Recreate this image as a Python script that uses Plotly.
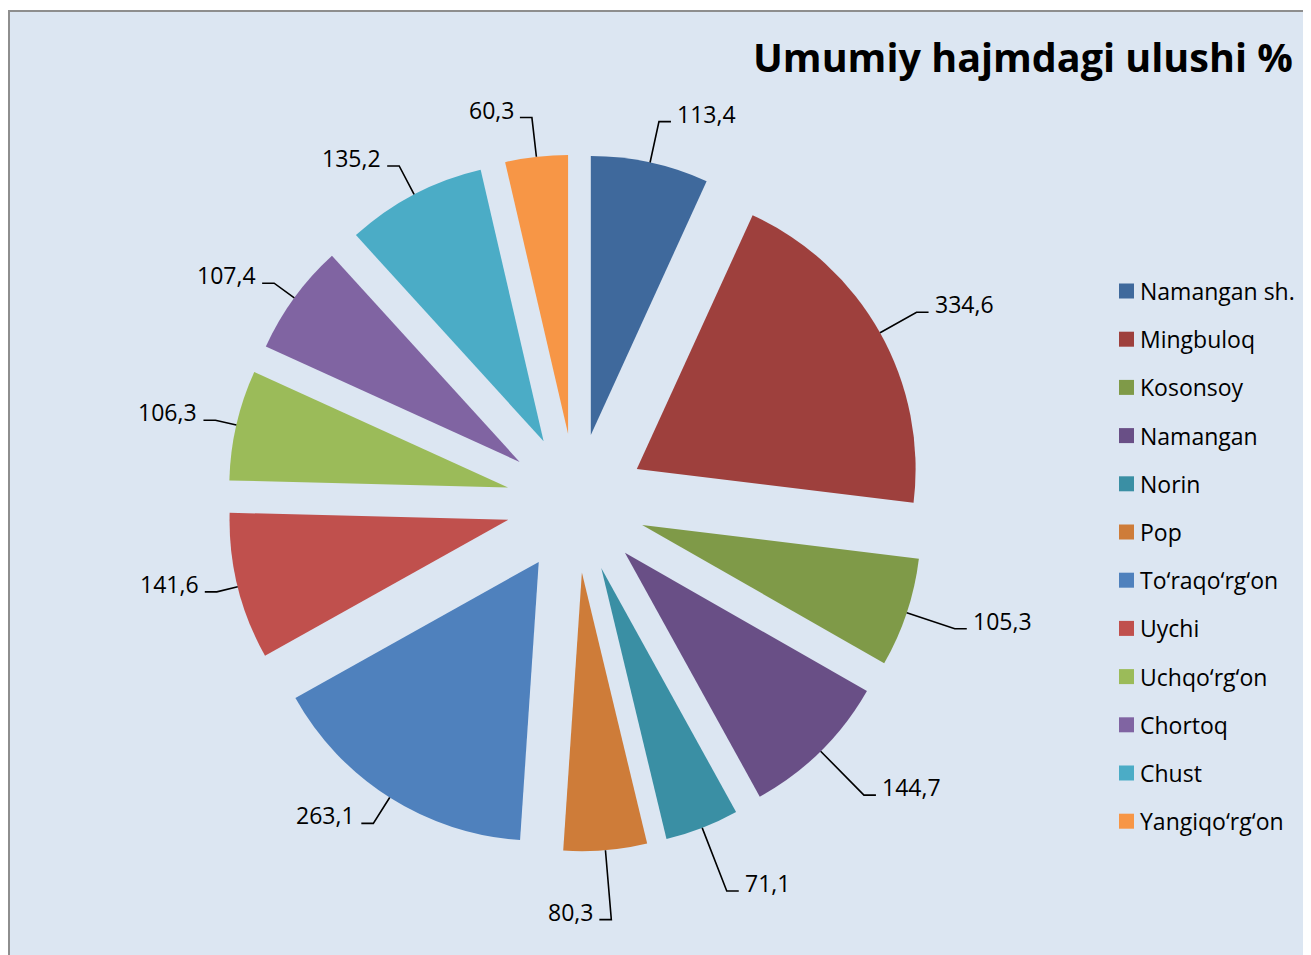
import math
import plotly.graph_objects as go

# ---------------- data ----------------
categories = ["Namangan sh.", "Mingbuloq", "Kosonsoy", "Namangan", "Norin", "Pop",
              "To\u2018raqo\u2018rg\u2018on", "Uychi", "Uchqo\u2018rg\u2018on", "Chortoq",
              "Chust", "Yangiqo\u2018rg\u2018on"]
values = [113.4, 334.6, 105.3, 144.7, 71.1, 80.3, 263.1, 141.6, 106.3, 107.4, 135.2, 60.3]
colors = ["#3F699C", "#9E403D", "#7F9A48", "#694F86", "#3A8FA4", "#CE7C39",
          "#4F81BD", "#C0504D", "#9BBB59", "#8064A2", "#4BACC6", "#F79646"]
title_text = "Umumiy hajmdagi ulushi %"

# ---------------- layout constants ----------------
W, H = 1311, 955
OFF = 8  # page body margin
FONT = "Open Sans"
PULL = 0.25
DOM_X = [0.16743, 0.69908]
DOM_Y = [0.11675, 0.84660]
BG = "#DCE6F2"


def px_to_paper(x, y):
    """page pixel -> paper coords (figure sits at page offset OFF)"""
    return (x - OFF) / W, 1 - (y - OFF) / H


fig = go.Figure()
fig.add_trace(go.Pie(
    labels=categories, values=values, sort=False, direction="clockwise", rotation=0,
    pull=PULL, marker=dict(colors=colors), textinfo="none", hoverinfo="label+value",
    domain=dict(x=DOM_X, y=DOM_Y), showlegend=False,
))

shapes = []
annotations = []

# chart area background + border
shapes.append(dict(type="rect", xref="paper", yref="paper", layer="below",
                   x0=1 / W, x1=1.02, y0=-0.02, y1=1 - 3 / H,
                   fillcolor=BG, line=dict(color="#8E8E8E", width=2)))

# pie geometry (as plotly computes it), in page pixels
cx = (DOM_X[0] + DOM_X[1]) / 2 * W + OFF
cy = (1 - (DOM_Y[0] + DOM_Y[1]) / 2) * H + OFF
box = min((DOM_X[1] - DOM_X[0]) * W, (DOM_Y[1] - DOM_Y[0]) * H) / 2
r = box / (1 + PULL)
r_out = r * (1 + PULL)

total = sum(values)
cum = 0.0
for v in values:
    theta = 2 * math.pi * (cum + v / 2) / total
    cum += v
    dx, dy = math.sin(theta), -math.cos(theta)
    ax_, ay_ = cx + r_out * dx, cy + r_out * dy
    k = 1.12 - 0.06 * max(0.0, -dx) + (0.08 * max(0.0, dy) if dx > 0 else 0.0)
    ex, ey = cx + k * r_out * dx, cy + k * r_out * dy
    side = 1 if dx > 0.1 else -1
    fx, fy = ex + side * 12, ey
    p1 = px_to_paper(ax_, ay_)
    p2 = px_to_paper(ex, ey)
    p3 = px_to_paper(fx, fy)
    shapes.append(dict(type="path", xref="paper", yref="paper", layer="above",
                       path=f"M {p1[0]},{p1[1]} L {p2[0]},{p2[1]} L {p3[0]},{p3[1]}",
                       line=dict(color="black", width=1.6)))
    tx, ty = px_to_paper(fx + side * 4, fy - 8)
    annotations.append(dict(xref="paper", yref="paper", x=tx, y=ty, showarrow=False,
                            text=f"{v:.1f}".replace(".", ","),
                            xanchor="left" if side > 0 else "right", yanchor="middle",
                            font=dict(family=FONT, size=23, color="black")))

# manual legend
LEG_Y0, LEG_STEP = 291, 48.2
for i, (name, col) in enumerate(zip(categories, colors)):
    yc = LEG_Y0 + i * LEG_STEP
    x0, y0 = px_to_paper(1119, yc - 7.5)
    x1, y1 = px_to_paper(1134, yc + 7.5)
    shapes.append(dict(type="rect", xref="paper", yref="paper", x0=x0, x1=x1, y0=y1, y1=y0,
                       fillcolor=col, line=dict(width=0)))
    tx, ty = px_to_paper(1138, yc)
    annotations.append(dict(xref="paper", yref="paper", x=tx, y=ty, showarrow=False,
                            text=name, xanchor="left", yanchor="middle",
                            font=dict(family=FONT, size=23, color="black")))

# title
tx, ty = px_to_paper(1295, 57)
annotations.append(dict(xref="paper", yref="paper", x=tx, y=ty, showarrow=False,
                        text=f"<b>{title_text}</b>", xanchor="right", yanchor="middle",
                        font=dict(family=FONT, size=39.5, color="black")))

fig.update_layout(
    width=W, height=H, margin=dict(l=0, r=0, t=0, b=0),
    paper_bgcolor="white", plot_bgcolor=BG, showlegend=False,
    shapes=shapes, annotations=annotations,
)

fig.write_html("out.html")
